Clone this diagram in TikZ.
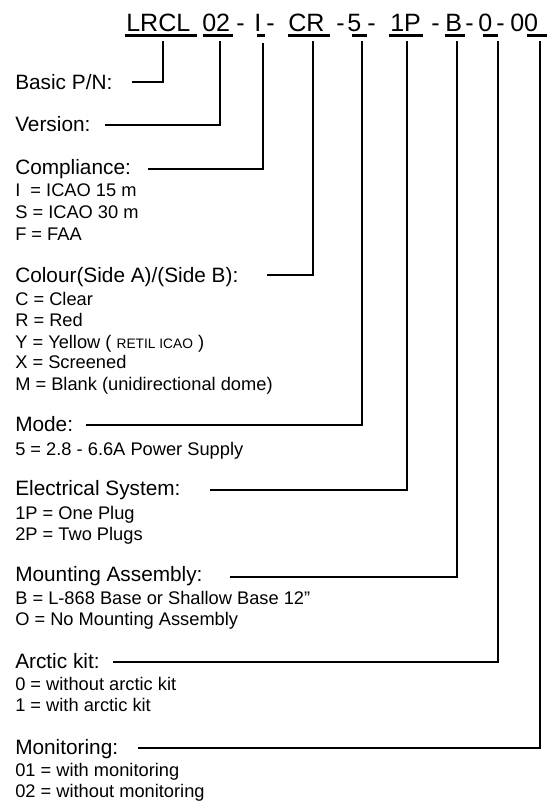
\documentclass[tikz,border=0pt]{standalone}
\usepackage{fontspec}
\setmainfont{Liberation Sans}
\begin{document}
\begin{tikzpicture}[x=0.75pt,y=-0.75pt,
  hdr/.style={font=\fontsize{18.8}{22}\selectfont, anchor=base west, inner sep=0pt},
  head/.style={font=\fontsize{15.6}{18}\selectfont, anchor=base west, inner sep=0pt},
  item/.style={font=\fontsize{13.7}{16}\selectfont, anchor=base west, inner sep=0pt},
  uline/.style={line width=2.25pt},
  conn/.style={line width=1.1pt}]
\useasboundingbox (0,0) rectangle (547,802);
% header
\node[hdr] (sLRCL) at (126,32) {LRCL};
\node[hdr] (s02) at (202,32) {02};
\node[hdr] (d1) at (236,32) {-};
\node[hdr] (sI) at (254,32) {I};
\node[hdr] (d2) at (266,32) {-};
\node[hdr] (sCR) at (288,32) {CR};
\node[hdr] (d3) at (336,32) {-};
\node[hdr] (s5) at (347,32) {5};
\node[hdr] (d4) at (367,32) {-};
\node[hdr] (s1P) at (390,32) {1P};
\node[hdr] (d5) at (431,32) {-};
\node[hdr] (sB) at (445,32) {B};
\node[hdr] (d6) at (465,32) {-};
\node[hdr] (s0) at (478,32) {0};
\node[hdr] (d7) at (496,32) {-};
\node[hdr] (s00) at (510,32) {00};
% underlines
\draw[uline] (125,36) -- (197,36);
\draw[uline] (203,36) -- (233,36);
\draw[uline] (257,36) -- (265,36);
\draw[uline] (288,36) -- (330,36);
\draw[uline] (352,36) -- (367,36);
\draw[uline] (389,36) -- (423,36);
\draw[uline] (445,36) -- (465,36);
\draw[uline] (483,36) -- (498,36);
\draw[uline] (527,36) -- (547,36);
% tick tops
\coordinate (t1) at (163,41);
\coordinate (t2) at (220,41);
\coordinate (t3) at (263,43);
\coordinate (t4) at (313,41);
\coordinate (t5) at (362,41);
\coordinate (t6) at (407,41);
\coordinate (t7) at (457,41);
\coordinate (t8) at (498,41);
\coordinate (t9) at (540,41);
% headings
\node[head] (hBasic) at (15,90) {Basic P/N:};
\node[head] (hVer) at (15,132) {Version:};
\node[head] (hComp) at (15,175) {Compliance:};
\node[item] (iI) at (15,197) {I\ \ = ICAO 15 m};
\node[item] (iS) at (15,219) {S = ICAO 30 m};
\node[item] (iF) at (15,240) {F = FAA};
\node[head] (hCol) at (15,282) {Colour(Side A)/(Side B):};
\node[item] (iC) at (15,305) {C = Clear};
\node[item] (iR) at (15,326) {R = Red};
\node[item] (iY) at (15,348) {Y = Yellow ( {\fontsize{10.3}{12}\selectfont RETIL ICAO} )};
\node[item] (iX) at (15,368) {X = Screened};
\node[item] (iM) at (15,390) {M = Blank (unidirectional dome)};
\node[head] (hMode) at (15,431) {Mode:};
\node[item] (i5) at (15,455) {5 = 2.8 - 6.6A Power Supply};
\node[head] (hEl) at (15,495) {Electrical System:};
\node[item] (i1P) at (15,519) {1P = One Plug};
\node[item] (i2P) at (15,540) {2P = Two Plugs};
\node[head] (hMount) at (15,581) {Mounting Assembly:};
\node[item] (iB) at (15,604) {B = L-868 Base or Shallow Base 12”};
\node[item] (iO) at (15,625) {O = No Mounting Assembly};
\node[head] (hArc) at (15,668) {Arctic kit:};
\node[item] (i0) at (15,690) {0 = without arctic kit};
\node[item] (i1) at (15,711) {1 = with arctic kit};
\node[head] (hMon) at (15,754) {Monitoring:};
\node[item] (i01) at (15,776) {01 = with monitoring};
\node[item] (i02) at (15,797) {02 = without monitoring};
% connector starts
\coordinate (c1) at (132,82);
\coordinate (c2) at (105,125);
\coordinate (c3) at (148,169);
\coordinate (c4) at (267,275);
\coordinate (c5) at (86,425);
\coordinate (c6) at (210,490);
\coordinate (c7) at (230,577);
\coordinate (c8) at (113,662);
\coordinate (c9) at (138,748);
\draw[conn] (c1) -| (t1);
\draw[conn] (c2) -| (t2);
\draw[conn] (c3) -| (t3);
\draw[conn] (c4) -| (t4);
\draw[conn] (c5) -| (t5);
\draw[conn] (c6) -| (t6);
\draw[conn] (c7) -| (t7);
\draw[conn] (c8) -| (t8);
\draw[conn] (c9) -| (t9);
\end{tikzpicture}
\end{document}
